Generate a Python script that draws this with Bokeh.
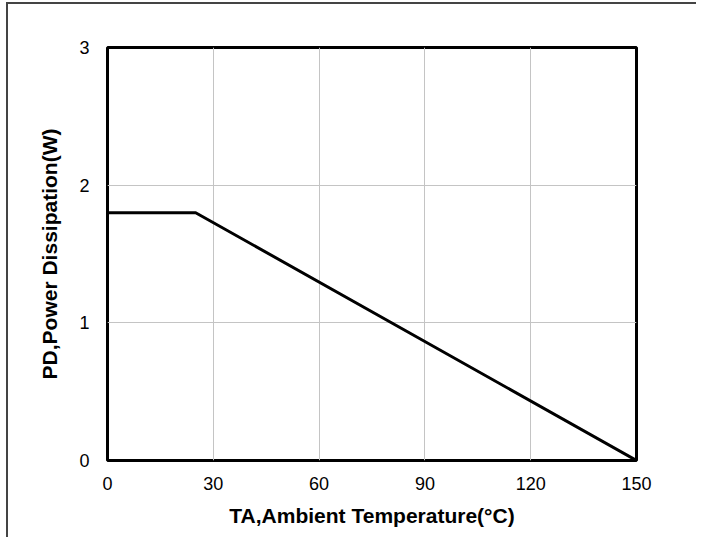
from bokeh.plotting import figure
from bokeh.models import Range1d, FixedTicker
from bokeh.embed import file_html
from bokeh.resources import INLINE

# Data
temp_c = [0, 25, 150]
power_w = [1.8, 1.8, 0.0]
x_ticks = [0, 30, 60, 90, 120, 150]
y_ticks = [0, 1, 2, 3]

W, H = 690, 535
p = figure(width=W, height=H, output_backend="svg", toolbar_location=None,
           x_range=Range1d(0, 150), y_range=Range1d(0, 3),
           min_border_left=99, min_border_right=62, min_border_top=43, min_border_bottom=79)

p.line(temp_c, power_w, line_color="black", line_width=3)

p.outline_line_color = "black"
p.outline_line_width = 3
p.background_fill_color = "white"
p.border_fill_color = "white"

for ax in (p.xaxis, p.yaxis):
    ax.axis_line_color = None
    ax.major_tick_line_color = None
    ax.minor_tick_line_color = None
    ax.major_label_text_font = "Liberation Sans"
    ax.major_label_text_font_size = "18px"
    ax.major_label_text_color = "black"
    ax.axis_label_text_font = "Liberation Sans"
    ax.axis_label_text_font_size = "21px"
    ax.axis_label_text_font_style = "bold"
    ax.axis_label_text_color = "black"

p.xaxis.ticker = FixedTicker(ticks=x_ticks)
p.yaxis.ticker = FixedTicker(ticks=y_ticks)
p.xaxis.axis_label = "TA,Ambient Temperature(°C)"
p.yaxis.axis_label = "PD,Power Dissipation(W)"
p.xaxis.major_label_standoff = 10
p.yaxis.major_label_standoff = 12
p.xaxis.axis_label_standoff = 11
p.yaxis.axis_label_standoff = 15

p.xgrid.grid_line_color = "#c4c4c4"
p.ygrid.grid_line_color = "#c4c4c4"
p.xgrid.grid_line_width = 1
p.ygrid.grid_line_width = 1

p.styles = {"margin-left": "6px", "margin-top": "2px",
            "border-top": "2px solid #444444", "border-left": "2px solid #444444"}

open("out.html", "w").write(file_html(p, INLINE))
